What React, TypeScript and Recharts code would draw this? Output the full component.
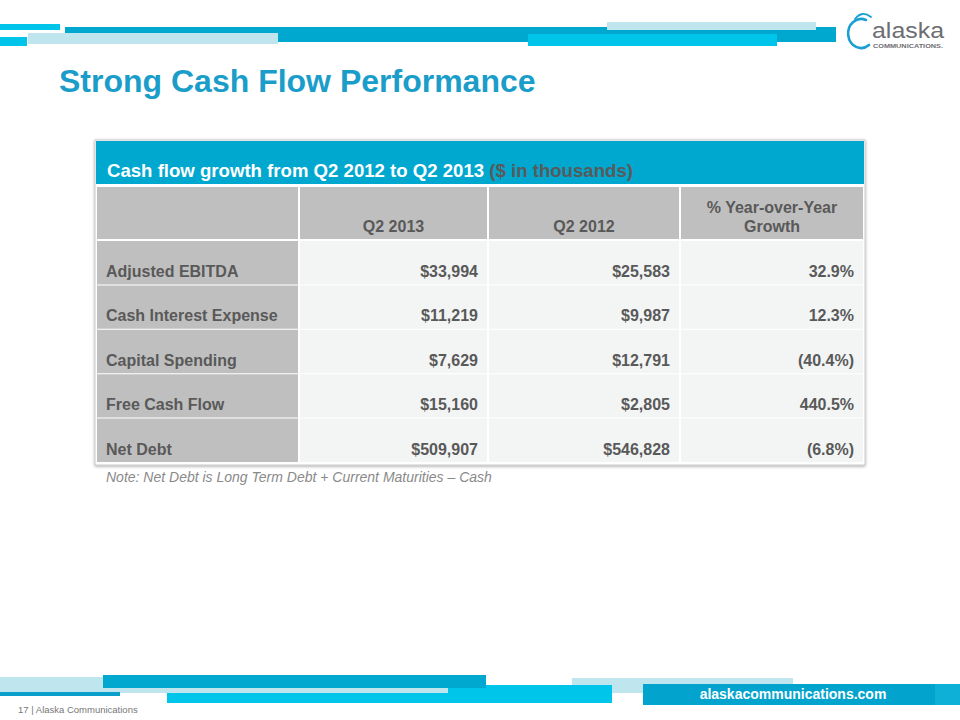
import React from 'react';
import { Surface, Layer, Rectangle, Text } from 'recharts';

// ---- data ----
const slideTitle = 'Strong Cash Flow Performance';
const tableTitle = 'Cash flow growth from Q2 2012 to Q2 2013';
const tableUnit = '($ in thousands)';
const columnHeaders = ['Q2 2013', 'Q2 2012', '% Year-over-Year|Growth'];
const rowLabels = ['Adjusted EBITDA', 'Cash Interest Expense', 'Capital Spending', 'Free Cash Flow', 'Net Debt'];
const q2_2013 = [33994, 11219, 7629, 15160, 509907];
const q2_2012 = [25583, 9987, 12791, 2805, 546828];
const yoyGrowth = [32.9, 12.3, -40.4, 440.5, -6.8];
const noteText = 'Note: Net Debt is Long Term Debt + Current Maturities \u2013 Cash';
const footerLeft = '17  |  Alaska Communications';
const footerUrl = 'alaskacommunications.com';

// ---- styles ----
const FONT = '"Liberation Sans", Arial, Helvetica, sans-serif';
const DARK = '#00a8d0';
const BRIGHT = '#00c5ea';
const PALE = '#bfe6ef';
const GREY_CELL = '#bfbfbf';
const LIGHT_CELL = '#f3f5f5';
const TEXT = '#595959';

const money = (v: number) => '$' + v.toLocaleString('en-US');
const pct = (v: number) => (v < 0 ? `(${Math.abs(v).toFixed(1)}%)` : `${v.toFixed(1)}%`);

const colX = [97, 300, 489, 681];
const colW = [201, 187, 190, 182];
const headerTop = 187;
const headerH = 52;
const rowTop0 = 241;
const rowStep = 44.4;
const rowH = 43.4;

type Bar = { x: number; y: number; w: number; h: number; c: string };
const topBars: Bar[] = [
  { x: 0, y: 24, w: 60, h: 6, c: BRIGHT },
  { x: 65, y: 27, w: 771, h: 15, c: DARK },
  { x: 28, y: 33, w: 250, h: 11, c: PALE },
  { x: 0, y: 37, w: 27, h: 9, c: BRIGHT },
  { x: 607, y: 22, w: 209, h: 8, c: PALE },
  { x: 528, y: 34, w: 249, h: 12, c: BRIGHT },
];
const bottomBars: Bar[] = [
  { x: 572, y: 678, w: 221, h: 15, c: PALE },
  { x: 167, y: 685, w: 445, h: 18, c: BRIGHT },
  { x: 0, y: 677, w: 448, h: 16, c: PALE },
  { x: 103, y: 675, w: 383, h: 13, c: DARK },
  { x: 0, y: 692, w: 120, h: 4, c: '#0aa0cb' },
  { x: 643, y: 684, w: 317, h: 21, c: '#02a3cd' },
  { x: 935, y: 684, w: 25, h: 21, c: '#0fb0d8' },
];

export default function App() {
  const rows = rowLabels.map((label, i) => ({
    label,
    cells: [money(q2_2013[i]), money(q2_2012[i]), pct(yoyGrowth[i])],
  }));

  return (
    <div style={{ position: 'absolute', left: 0, top: 0, width: 960, height: 720, background: '#fff' }}>
      <Surface width={960} height={720} viewBox={{ x: 0, y: 0, width: 960, height: 720 }}>
        <defs>
          <filter id="tblShadow" x="-5%" y="-5%" width="110%" height="110%">
            <feDropShadow dx="0" dy="1" stdDeviation="1.6" floodColor="#000" floodOpacity="0.35" />
          </filter>
        </defs>

        {/* top decorative stripes */}
        <Layer>
          {topBars.map((b, i) => (
            <Rectangle key={i} x={b.x} y={b.y} width={b.w} height={b.h} fill={b.c} />
          ))}
        </Layer>

        {/* logo */}
        <Layer>
          <path d="M 866 20 A 13 14.5 0 1 0 869 45" fill="none" stroke="#1b9ed3" strokeWidth={2.6} strokeLinecap="round" />
          <path d="M 855 19 Q 862 10 871 17" fill="none" stroke="#1b9ed3" strokeWidth={1.8} strokeLinecap="round" />
          <text x={872} y={37.5} fontFamily={FONT} fontSize={22} fill="#6d6e71" textLength={72} lengthAdjust="spacingAndGlyphs">alaska</text>
          <text x={873} y={48} fontFamily={FONT} fontSize={6} fontWeight="bold" fill="#6d6e71" textLength={70} lengthAdjust="spacingAndGlyphs">COMMUNICATIONS.</text>
        </Layer>

        {/* title */}
        <Text x={59} y={92} fontFamily={FONT} fontSize={32} fontWeight="bold" fill="#1b9dc9">
          {slideTitle}
        </Text>

        {/* table */}
        <Layer>
          <Rectangle x={95} y={140} width={770} height={325} fill="#ffffff" stroke="#c8c8c8" strokeWidth={1} filter="url(#tblShadow)" />
          <Rectangle x={96} y={141} width={768} height={43} fill={DARK} />
          <text x={107} y={177} fontFamily={FONT} fontSize={18.6} fontWeight="bold" fill="#ffffff">
            {tableTitle}
            <tspan fill="#5a5a5a"> {tableUnit}</tspan>
          </text>

          {/* header row */}
          {colX.map((x, c) => (
            <Rectangle key={`h${c}`} x={x} y={headerTop} width={colW[c]} height={headerH} fill={GREY_CELL} />
          ))}
          {columnHeaders.map((h, c) => {
            const lines = h.split('|');
            const cx = colX[c + 1] + colW[c + 1] / 2;
            return lines.map((ln, k) => (
              <Text
                key={`ht${c}-${k}`}
                x={cx}
                y={232 - (lines.length - 1 - k) * 19}
                textAnchor="middle"
                fontFamily={FONT}
                fontSize={16}
                fontWeight="bold"
                fill={TEXT}
              >
                {ln}
              </Text>
            ));
          })}

          {/* body rows */}
          {rows.map((r, i) => {
            const y = rowTop0 + i * rowStep;
            return (
              <Layer key={`r${i}`}>
                <Rectangle x={colX[0]} y={y} width={colW[0]} height={rowH} fill={GREY_CELL} />
                {r.cells.map((_, c) => (
                  <Rectangle key={`c${c}`} x={colX[c + 1]} y={y} width={colW[c + 1]} height={rowH} fill={LIGHT_CELL} />
                ))}
                <Text x={106} y={y + 36} fontFamily={FONT} fontSize={16} fontWeight="bold" fill={TEXT}>
                  {r.label}
                </Text>
                {r.cells.map((v, c) => (
                  <Text
                    key={`t${c}`}
                    x={colX[c + 1] + colW[c + 1] - 9}
                    y={y + 36}
                    textAnchor="end"
                    fontFamily={FONT}
                    fontSize={16}
                    fontWeight="bold"
                    fill={TEXT}
                  >
                    {v}
                  </Text>
                ))}
              </Layer>
            );
          })}
        </Layer>

        {/* note */}
        <Text x={106} y={482} fontFamily={FONT} fontSize={14} fontStyle="italic" fill="#8a8a8a">
          {noteText}
        </Text>

        {/* footer stripes */}
        <Layer>
          {bottomBars.map((b, i) => (
            <Rectangle key={i} x={b.x} y={b.y} width={b.w} height={b.h} fill={b.c} />
          ))}
        </Layer>
        <Text x={793} y={699} textAnchor="middle" fontFamily={FONT} fontSize={14} fontWeight="bold" fill="#ffffff">
          {footerUrl}
        </Text>
        <Text x={18} y={713} fontFamily={FONT} fontSize={9.5} fill="#777777">
          {footerLeft}
        </Text>
      </Surface>
    </div>
  );
}
